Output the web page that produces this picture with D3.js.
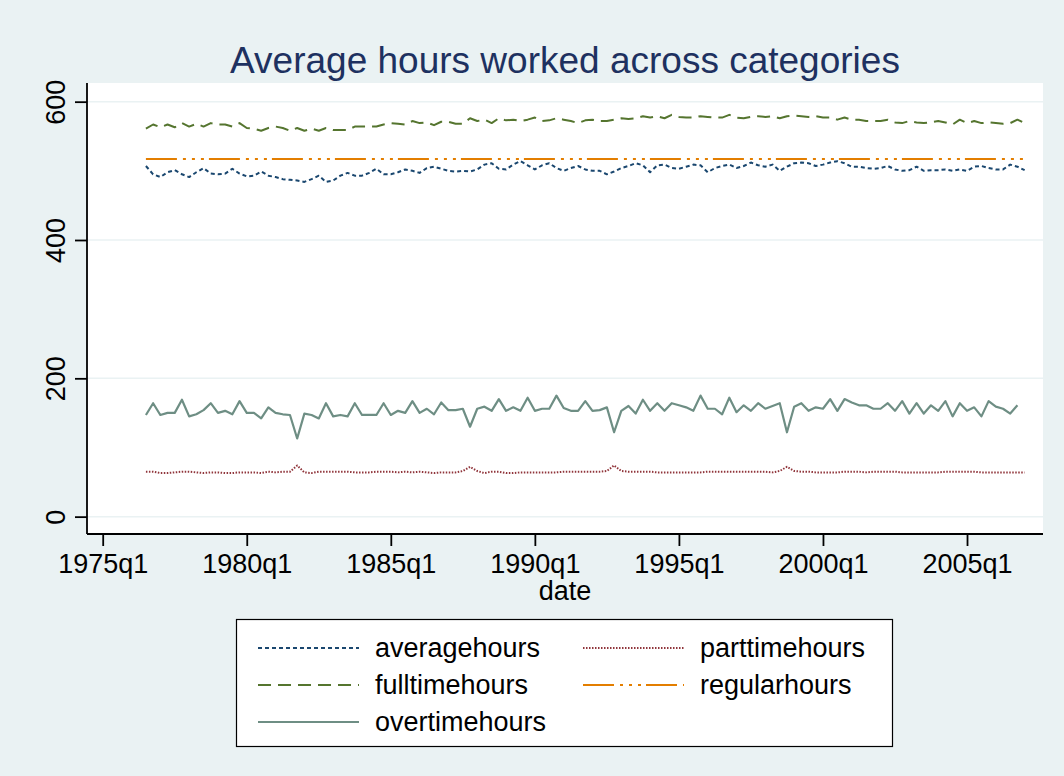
<!DOCTYPE html>
<html>
<head>
<meta charset=utf-8>
<style>
body {margin: 0; background: #eaf2f3;}
svg {display: block; font-family: 'Liberation Sans', Arial, sans-serif;}
</style>
</head>
<body>
<svg id=chart width=1064 height=776></svg>

<script src='https://cdn.jsdelivr.net/npm/d3@7/dist/d3.min.js'></script>
<script>
// quarters counted from 1975q1; the series start at 1976q3
var firstQuarter = 6;
var tickQuarters = [0, 20, 40, 60, 80, 100, 120];
var tickLabels = ['1975q1', '1980q1', '1985q1', '1990q1', '1995q1', '2000q1', '2005q1'];
var yTicks = [0, 200, 400, 600];

var averagehours = [
  507,495,491,498,501,495,491,498,504,496,495,496,503,496,492,493,499,493,491,488,
  487,486,484,488,493,484,486,493,497,493,493,497,503,495,495,498,502,500,497,504,
  506,503,500,499,500,499,502,509,511,503,502,509,514,508,502,508,511,504,500,504,
  507,502,500,500,495,499,504,507,511,508,498,508,509,504,503,506,509,508,498,504,
  507,509,504,507,512,508,506,509,500,506,511,512,511,507,509,512,514,511,506,506,
  504,503,504,507,502,500,501,506,500,501,501,502,500,502,500,506,507,504,502,502,
  509,506,501];
var parttimehours = [
  65,65,63,63,64,65,65,64,63,64,64,63,63,64,64,64,63,65,64,65,
  65,74,64,63,65,65,65,65,65,64,64,64,65,65,65,64,65,64,65,64,
  63,64,64,64,66,72,66,63,65,65,63,63,64,64,64,64,64,64,65,65,
  65,65,65,65,66,74,66,65,65,65,65,64,64,64,64,64,64,64,65,65,
  65,65,65,65,65,65,65,64,66,72,66,65,65,64,64,64,64,65,65,65,
  64,65,65,65,65,64,64,64,64,64,64,65,65,65,65,65,64,64,64,64,
  64,64,64];
var fulltimehours = [
  561,567,563,567,563,569,564,568,564,569,567,567,564,569,562,561,558,562,564,562,
  558,562,558,561,558,562,559,559,559,564,564,564,564,567,569,568,567,572,569,570,
  566,571,571,568,568,576,572,574,569,576,573,574,572,574,577,572,573,576,574,572,
  569,573,574,572,572,574,576,575,576,579,577,579,576,581,578,577,577,579,578,577,
  577,581,577,576,578,579,578,579,576,579,580,579,578,579,577,577,574,577,574,574,
  572,572,572,574,570,569,572,570,569,570,572,570,567,574,569,572,569,570,569,568,
  569,574,569];
var regularhours = [
  517,517,517,517,517,517,517,517,517,517,517,517,517,517,517,517,517,517,517,517,
  517,517,517,517,517,517,517,517,517,517,517,517,517,517,517,517,517,517,517,517,
  517,517,517,517,517,517,517,517,517,517,517,517,517,517,517,517,517,517,517,517,
  517,517,517,517,517,517,517,517,517,517,517,517,517,517,517,517,517,517,517,517,
  517,517,517,517,517,517,517,517,517,517,517,517,517,517,517,517,517,517,517,517,
  517,517,517,517,517,517,517,517,517,517,517,517,517,517,517,517,517,517,517,517,
  517,517,517];
var overtimehours = [
  147,164,147,150,150,169,145,148,154,164,150,153,148,167,150,150,142,158,150,148,
  147,113,149,147,142,164,145,147,145,164,147,147,147,164,147,153,150,167,150,156,
  148,165,154,154,156,130,156,159,153,170,153,158,153,172,153,156,156,175,157,153,
  153,167,153,154,158,122,153,160,149,169,153,164,153,164,161,158,153,175,156,156,
  148,172,151,161,153,164,156,160,164,122,159,164,153,158,156,170,153,170,165,161,
  161,156,156,164,153,167,149,164,149,161,153,167,145,164,153,158,145,167,159,156,
  149,161];

var series = [
  {name: 'averagehours',  values: averagehours,  color: '#1a476f', width: 2,   dash: '4,3'},
  {name: 'parttimehours', values: parttimehours, color: '#90353b', width: 2,   dash: '1.5,1.5'},
  {name: 'fulltimehours', values: fulltimehours, color: '#55752f', width: 2,   dash: '13,7'},
  {name: 'regularhours',  values: regularhours,  color: '#e37e00', width: 2,   dash: '31,6,3,6,3,6,3,5'},
  {name: 'overtimehours', values: overtimehours, color: '#6e8e84', width: 2.2, dash: null}
];

var svg = d3.select('#chart');
var plot = {left: 87, right: 1043, top: 83, bottom: 534};
var fs = 27;

//scales
var x = d3.scaleLinear().domain([-2.18, 130.55]).range([plot.left, plot.right]);
var y = d3.scaleLinear().domain([-25.1, 627]).range([plot.bottom, plot.top]);

svg.append('rect').attr('width', 1064).attr('height', 776).attr('fill', '#eaf2f3');
svg.append('rect')
    .attr('x', plot.left).attr('y', plot.top)
    .attr('width', plot.right - plot.left).attr('height', plot.bottom - plot.top)
    .attr('fill', 'white');

//gridlines
svg.append('g').selectAll('line')
  .data(yTicks)
  .enter().append('line')
    .attr('x1', plot.left).attr('x2', plot.right)
    .attr('y1', function(d) { return y(d); }).attr('y2', function(d) { return y(d); })
    .attr('stroke', '#eaf2f3').attr('stroke-width', 1.5);

//lines
var line = d3.line()
    .x(function(d, i) { return x(firstQuarter + i); })
    .y(function(d) { return y(d); });

svg.append('g').selectAll('path')
  .data(series)
  .enter().append('path')
    .attr('d', function(s) { return line(s.values); })
    .attr('fill', 'none')
    .attr('stroke', function(s) { return s.color; })
    .attr('stroke-width', function(s) { return s.width; })
    .attr('stroke-dasharray', function(s) { return s.dash; })
    .attr('stroke-linejoin', 'round');

//axes
var xAxis = d3.axisBottom(x)
    .tickValues(tickQuarters)
    .tickFormat(function(d, i) { return tickLabels[i]; })
    .tickSize(12).tickPadding(8).tickSizeOuter(0);
var yAxis = d3.axisLeft(y)
    .tickValues(yTicks)
    .tickSize(12).tickSizeOuter(0);

var gx = svg.append('g')
    .attr('transform', 'translate(0,' + plot.bottom + ')')
    .call(xAxis);
gx.select('.domain').attr('d', 'M' + plot.left + ',0H' + plot.right);
gx.selectAll('text').attr('font-size', fs).attr('fill', 'black').attr('font-family', null);

var gy = svg.append('g')
    .attr('transform', 'translate(' + plot.left + ',0)')
    .call(yAxis);
gy.select('.domain').attr('d', 'M0,' + plot.top + 'V' + plot.bottom);
gy.selectAll('.tick text')
    .attr('font-size', fs).attr('fill', 'black').attr('font-family', null)
    .attr('text-anchor', 'middle')
    .attr('x', null).attr('dy', null)
    .attr('transform', 'translate(-22,0) rotate(-90)');

svg.selectAll('.domain, .tick line').attr('stroke', 'black').attr('stroke-width', 1.8);

//axis title
svg.append('text')
    .attr('x', (plot.left + plot.right) / 2).attr('y', 600)
    .attr('text-anchor', 'middle').attr('font-size', fs)
    .text('date');

//graph title
svg.append('text')
    .attr('x', (plot.left + plot.right) / 2).attr('y', 73)
    .attr('text-anchor', 'middle').attr('font-size', 37)
    .attr('fill', '#1e3160')
    .text('Average hours worked across categories');

//legend
var legend = svg.append('g');
legend.append('rect')
    .attr('x', 236.5).attr('y', 619.5).attr('width', 656).attr('height', 127)
    .attr('fill', 'white').attr('stroke', 'black').attr('stroke-width', 1.2);

var cols = [258, 583], rows = [648, 685, 722];
var item = legend.selectAll('.item')
  .data(series)
  .enter().append('g')
    .attr('class', 'item')
    .attr('transform', function(s, i) {
      return 'translate(' + cols[i % 2] + ',' + rows[Math.floor(i / 2)] + ')';
    });
item.append('line')
    .attr('x1', 0).attr('x2', 101)
    .attr('stroke', function(s) { return s.color; })
    .attr('stroke-width', function(s) { return s.width; })
    .attr('stroke-dasharray', function(s) { return s.dash; });
item.append('text')
    .attr('x', 117).attr('dy', '0.35em')
    .attr('font-size', fs)
    .text(function(s) { return s.name; });
</script>
</body>
</html>
